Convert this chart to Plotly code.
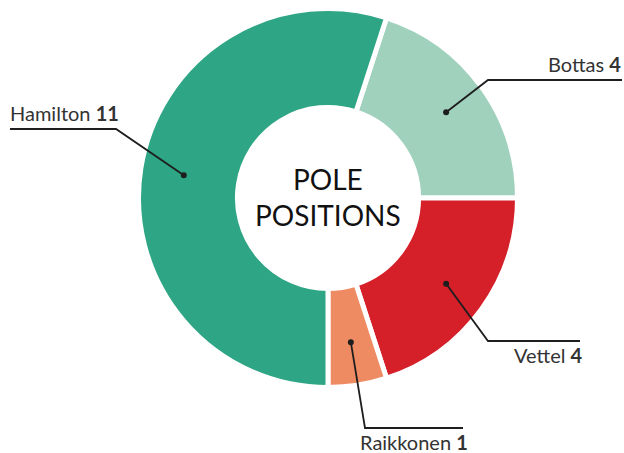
import math
import plotly.graph_objects as go

# Pole positions by driver (slice order, clockwise from the start angle)
drivers = ["Bottas", "Vettel", "Raikkonen", "Hamilton"]
poles = [4, 4, 1, 11]
colors = ["#a0d1bc", "#d51f29", "#ef8b63", "#2ea584"]

W, H = 624, 453
CX, CY = 328, 198          # donut centre in pixels
R_OUT = 189.5              # outer radius incl. half of the white gap stroke
HOLE = 0.478
ROTATION = 18              # first slice starts 18 degrees clockwise from 12 o'clock
DOT_R = 146                # radius at which leader-line dots sit

# Label layout: elbow / shelf points of each leader line and the text anchor
label_layout = {
    "Hamilton":  dict(path=[(116, 129), (10, 129)],  text=(9, 126),   xanchor="left",  yanchor="bottom"),
    "Bottas":    dict(path=[(488, 80), (622, 80)],   text=(622, 77),  xanchor="right", yanchor="bottom"),
    "Vettel":    dict(path=[(488, 341), (580, 341)], text=(584, 342), xanchor="right", yanchor="top"),
    "Raikkonen": dict(path=[(365, 428), (463, 428)], text=(469, 429), xanchor="right", yanchor="top"),
}

fig = go.Figure()

fig.add_trace(go.Pie(
    labels=drivers,
    values=poles,
    sort=False,
    direction="clockwise",
    rotation=ROTATION,
    hole=HOLE,
    marker=dict(colors=colors, line=dict(color="white", width=5)),
    textinfo="none",
    hoverinfo="skip",
    showlegend=False,
    domain=dict(x=[(CX - R_OUT) / W, (CX + R_OUT) / W],
                y=[1 - (CY + R_OUT) / H, 1 - (CY - R_OUT) / H]),
))

# Leader lines: start at the mid-angle of each slice, computed from the values
total = sum(poles)
acc = 0
annotations = []
shapes = []
for name, v in zip(drivers, poles):
    mid = math.radians(ROTATION + (acc + v / 2) / total * 360)
    acc += v
    dx = CX + DOT_R * math.sin(mid)
    dy = CY - DOT_R * math.cos(mid)
    lay = label_layout[name]
    pts = [(dx, dy)] + lay["path"]
    path = "M " + " L ".join(f"{x:.2f},{y:.2f}" for x, y in pts)
    shapes.append(dict(type="path", path=path, xref="x", yref="y", layer="above",
                       line=dict(color="#1e1e1e", width=1.8)))
    shapes.append(dict(type="circle", xref="x", yref="y", layer="above",
                       x0=dx - 3, x1=dx + 3, y0=dy - 3, y1=dy + 3,
                       fillcolor="#1e1e1e", line=dict(width=0)))
    tx, ty = lay["text"]
    annotations.append(dict(
        x=tx, y=ty, xref="x", yref="y",
        text=f"{name} <b>{v}</b>",
        showarrow=False, xanchor=lay["xanchor"], yanchor=lay["yanchor"],
        font=dict(family="Lato", size=20, color="#333333"),
        borderpad=0,
    ))

annotations.append(dict(
    x=CX, y=CY - 1, xref="x", yref="y",
    text="POLE<br>POSITIONS",
    showarrow=False, xanchor="center", yanchor="middle",
    font=dict(family="Lato", size=28, color="#111111"),
))

fig.update_layout(
    width=W, height=H,
    margin=dict(l=0, r=0, t=0, b=0),
    paper_bgcolor="white", plot_bgcolor="rgba(0,0,0,0)",
    xaxis=dict(range=[0, W], visible=False, fixedrange=True),
    yaxis=dict(range=[H, 0], visible=False, fixedrange=True),
    annotations=annotations,
    shapes=shapes,
)

fig.write_html("out.html")
